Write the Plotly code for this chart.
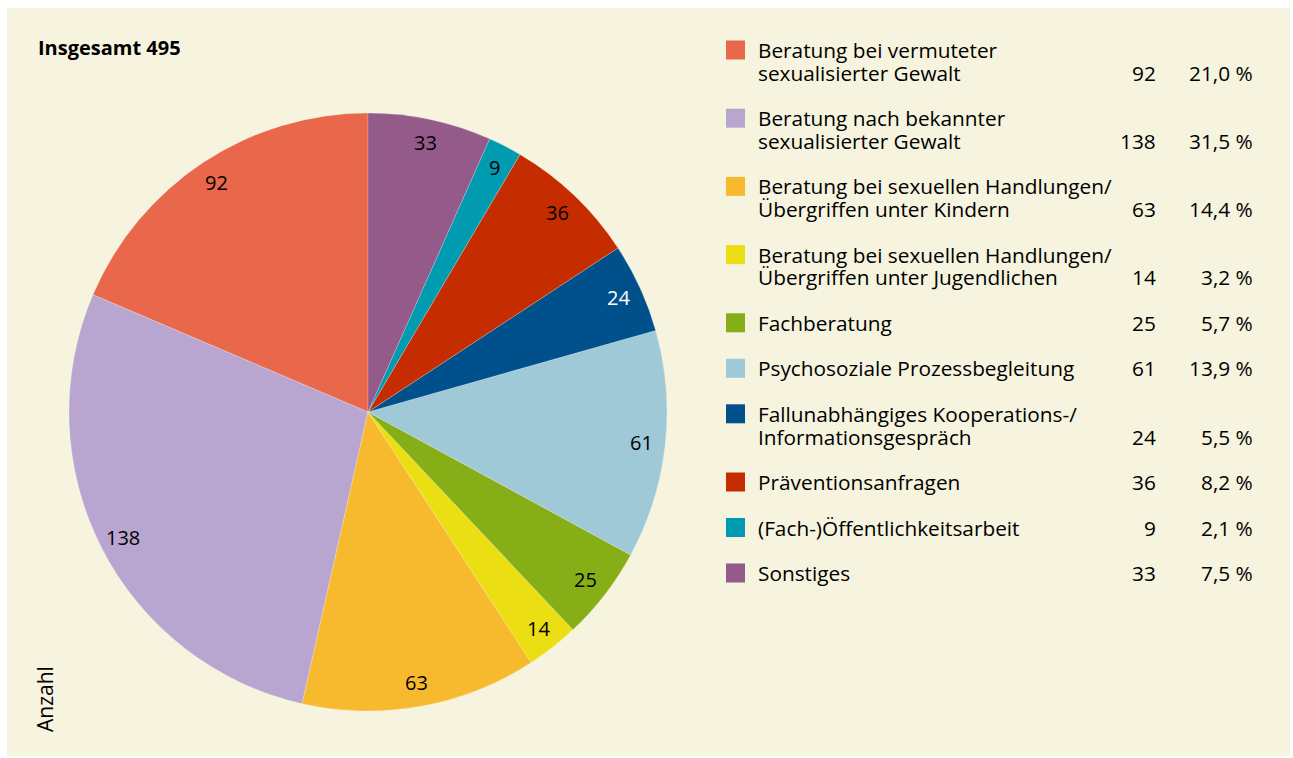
import numpy as np
import plotly.graph_objects as go

# ---------------- data ----------------
categories = [
    "Beratung bei vermuteter<br>sexualisierter Gewalt",
    "Beratung nach bekannter<br>sexualisierter Gewalt",
    "Beratung bei sexuellen Handlungen/<br>Übergriffen unter Kindern",
    "Beratung bei sexuellen Handlungen/<br>Übergriffen unter Jugendlichen",
    "Fachberatung",
    "Psychosoziale Prozessbegleitung",
    "Fallunabhängiges Kooperations-/<br>Informationsgespräch",
    "Präventionsanfragen",
    "(Fach-)Öffentlichkeitsarbeit",
    "Sonstiges",
]
values = [92, 138, 63, 14, 25, 61, 24, 36, 9, 33]
percent_labels = ["21,0 %", "31,5 %", "14,4 %", "3,2 %", "5,7 %", "13,9 %",
                  "5,5 %", "8,2 %", "2,1 %", "7,5 %"]
colors = ["#E9674A", "#B9A6D0", "#F7B92E", "#EBDF14", "#86AE16",
          "#9FC9D6", "#00508C", "#C52D00", "#009BB0", "#935A8A"]
label_font_colors = ["black", "black", "black", "black", "black",
                     "black", "white", "black", "black", "black"]
title_text = "Insgesamt 495"
unit_text = "Anzahl"

# ---------------- layout constants ----------------
W, H = 1293, 758
FONT = "Open Sans"
cx, cy, R = 368, 412, 299          # pie centre / radius in pixels
label_r = 0.92 * R

def px(x):
    return x / W

def py(y):
    return 1 - y / H

total = sum(values)
# plotly's counterclockwise mode puts the first slice to the right of 12 o'clock;
# rotate so that the first slice starts at 12 o'clock and runs counterclockwise
rot = -360.0 * values[0] / total

fig = go.Figure()
fig.add_trace(go.Pie(
    labels=[c.replace("<br>", " ") for c in categories],
    values=values,
    sort=False,
    direction="counterclockwise",
    rotation=rot,
    marker=dict(colors=colors, line=dict(color="rgba(255,255,255,0.35)", width=0.6)),
    textinfo="none",
    hoverinfo="label+value",
    showlegend=False,
    domain=dict(x=[px(cx - R), px(cx + R)], y=[py(cy + R), py(cy - R)]),
))

annotations = []
shapes = [dict(type="rect", xref="paper", yref="paper", x0=px(7), x1=px(1290),
               y0=py(756), y1=py(8), fillcolor="#F6F3DE", line=dict(width=0),
               layer="below")]

# slice value labels near the rim (slices run counterclockwise from 12 o'clock)
cum = np.cumsum([0] + values)
for i, v in enumerate(values):
    mid = (cum[i] + v / 2) / total * 2 * np.pi
    x = cx - label_r * np.sin(mid)
    y = cy - label_r * np.cos(mid)
    annotations.append(dict(x=px(x), y=py(y), xref="paper", yref="paper",
                            text=str(v), showarrow=False, xanchor="center",
                            yanchor="middle",
                            font=dict(family=FONT, size=20, color=label_font_colors[i])))

# custom legend
LEG = 20.8
line_h = 22.7
gap = 45.5
y_line = 50
for i, cat in enumerate(categories):
    lines = cat.split("<br>")
    for k, ln in enumerate(lines):
        annotations.append(dict(x=px(756), y=py(y_line + k * line_h), xref="paper",
                                yref="paper", text=ln, showarrow=False,
                                xanchor="left", yanchor="middle",
                                font=dict(family=FONT, size=LEG, color="black")))
    last = y_line + (len(lines) - 1) * line_h
    annotations.append(dict(x=px(1158), y=py(last), xref="paper", yref="paper",
                            text=str(values[i]), showarrow=False, xanchor="right",
                            yanchor="middle", font=dict(family=FONT, size=LEG, color="black")))
    annotations.append(dict(x=px(1255), y=py(last), xref="paper", yref="paper",
                            text=percent_labels[i], showarrow=False, xanchor="right",
                            yanchor="middle", font=dict(family=FONT, size=LEG, color="black")))
    shapes.append(dict(type="rect", xref="paper", yref="paper",
                       x0=px(726), x1=px(745), y0=py(y_line + 9.5), y1=py(y_line - 9.5),
                       fillcolor=colors[i], line=dict(width=0)))
    y_line = last + gap

annotations.append(dict(x=px(36), y=py(47), xref="paper", yref="paper", text="<b>" + title_text + "</b>",
                        showarrow=False, xanchor="left", yanchor="middle",
                        font=dict(family=FONT, size=20, color="black")))
annotations.append(dict(x=px(45), y=py(699), xref="paper", yref="paper", text=unit_text,
                        showarrow=False, xanchor="center", yanchor="middle", textangle=-90,
                        font=dict(family=FONT, size=21, color="black")))

fig.update_layout(
    width=W, height=H,
    margin=dict(l=0, r=0, t=0, b=0),
    paper_bgcolor="white",
    plot_bgcolor="white",
    shapes=shapes,
    annotations=annotations,
)

fig.write_html("out.html", config={"displayModeBar": False},
               post_script="document.body.style.margin='0';document.body.style.padding='0';")
